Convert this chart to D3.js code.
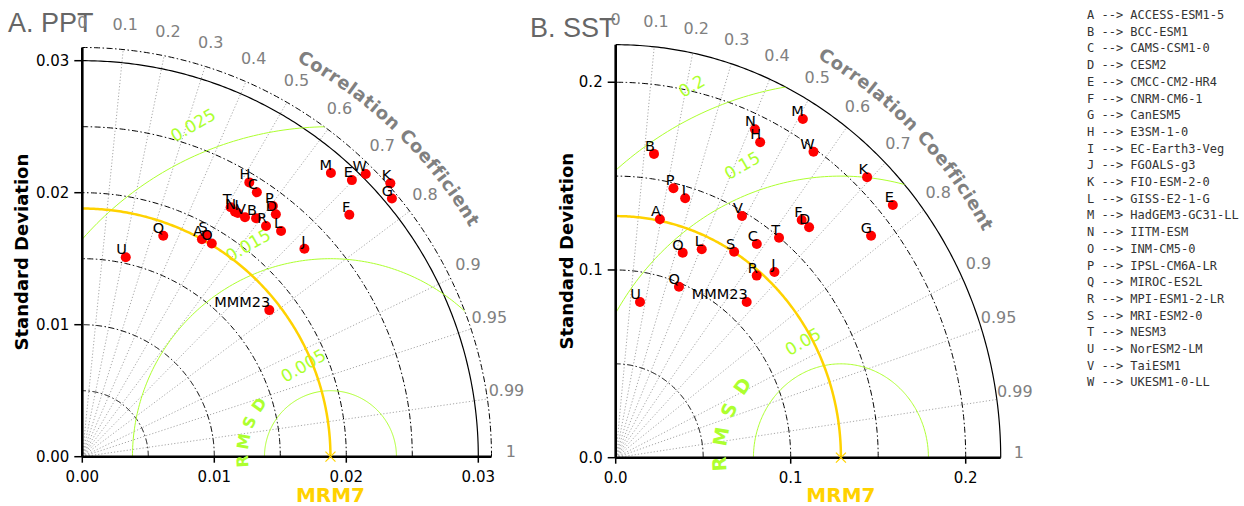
<!DOCTYPE html>
<html>
<head>
<meta charset="utf-8">
<script src="https://cdn.jsdelivr.net/npm/d3@7/dist/d3.min.js"></script>
<style>
  body { margin: 0; background: #fff; }
  svg { display: block; }
</style>
</head>
<body>
<svg id="chart" width="1244" height="506"></svg>
<script>
// Model codes and the CMIP6 models they stand for
const codes = ["A","B","C","D","E","F","G","H","I","J","K","L","M","N","O","P","Q","R","S","T","U","V","W"];
const modelNames = ["ACCESS-ESM1-5","BCC-ESM1","CAMS-CSM1-0","CESM2","CMCC-CM2-HR4","CNRM-CM6-1","CanESM5",
  "E3SM-1-0","EC-Earth3-Veg","FGOALS-g3","FIO-ESM-2-0","GISS-E2-1-G","HadGEM3-GC31-LL","IITM-ESM",
  "INM-CM5-0","IPSL-CM6A-LR","MIROC-ES2L","MPI-ESM1-2-LR","MRI-ESM2-0","NESM3","NorESM2-LM","TaiESM1","UKESM1-0-LL"];

// A. PPT: standard deviation and correlation of each model against MRM7
const pptStd  = [0.0188,0.02235,0.0240,0.0235,0.02926,0.0273,0.03054,0.02433,0.0219,0.02305,0.0312,0.02278,0.02858,0.02187,0.0189,0.02386,0.01783,0.02234,0.01926,0.02199,0.01546,0.02193,0.03033];
const pptCorr = [0.482,0.589,0.551,0.624,0.698,0.741,0.768,0.520,0.538,0.730,0.748,0.661,0.659,0.529,0.519,0.605,0.344,0.623,0.489,0.511,0.213,0.562,0.708];
const pptEnsemble = { name: "MMM23", std: 0.0180, corr: 0.787 };
const pptRefStd = 0.0188;

// B. SST: standard deviation and correlation of each model against MRM7
const sstStd  = [0.1295,0.1633,0.1395,0.1652,0.2078,0.1653,0.1878,0.1872,0.1438,0.1342,0.2073,0.1214,0.2097,0.1922,0.1157,0.1473,0.0980,0.1261,0.1289,0.1498,0.0841,0.1476,0.1983];
const sstCorr = [0.195,0.134,0.578,0.669,0.762,0.643,0.777,0.441,0.276,0.676,0.693,0.405,0.510,0.414,0.331,0.224,0.369,0.639,0.525,0.623,0.165,0.489,0.570];
const sstEnsemble = { name: "MMM23", std: 0.1117, corr: 0.670 };
const sstRefStd = 0.1287;

// Axis ticks
const pptStdTicks = [0, 0.01, 0.02, 0.03];
const sstStdTicks = [0, 0.1, 0.2];
const corrTicks = [0, 0.1, 0.2, 0.3, 0.4, 0.5, 0.6, 0.7, 0.8, 0.9, 0.95, 0.99, 1];
const pptRmsTicks = [0.005, 0.015, 0.025];
const sstRmsTicks = [0.05, 0.15, 0.2];
const pptStdArcs = [0.005, 0.01, 0.015, 0.02, 0.025, 0.031];
const sstStdArcs = [0.05, 0.1, 0.15, 0.2];

const GREEN = "#adff2f", GOLD = "#ffd200", GREY = "#808080";
const svg = d3.select("#chart");

function drawPanel(cfg) {
  const max = cfg.max;
  const x = d3.scaleLinear().domain([0, max]).range([cfg.left, cfg.left + cfg.width]);
  const y = d3.scaleLinear().domain([0, max]).range([cfg.bottom, cfg.bottom - cfg.height]);
  const polar = (r, th, cx = 0) => [x(cx + r * Math.cos(th)), y(r * Math.sin(th))];
  const line = d3.line();
  const arcPts = (r, a0, a1, cx = 0, n = 200) =>
    d3.range(n + 1).map(i => polar(r, a0 + (a1 - a0) * i / n, cx));
  const HALF = Math.PI / 2;

  const g = svg.append("g");

  // title
  g.append("text").attr("x", cfg.titleX).attr("y", cfg.titleY)
    .attr("font-family", "Liberation Sans, Arial, sans-serif").attr("font-size", 27)
    .attr("fill", "#666").text(cfg.title);

  // quarter-disc clip for the RMSD circles
  const clipId = cfg.id + "-clip";
  g.append("clipPath").attr("id", clipId).append("path")
    .attr("d", line([[x(0), y(0)], ...arcPts(max, 0, HALF)]) + "Z");

  // correlation rays
  corrTicks.filter(c => c > 0 && c < 1).forEach(c => {
    const th = Math.acos(c);
    g.append("line")
      .attr("x1", x(0)).attr("y1", y(0))
      .attr("x2", polar(max, th)[0]).attr("y2", polar(max, th)[1])
      .attr("stroke", "#a8a8a8").attr("stroke-width", 1).attr("stroke-dasharray", "1.2,2");
  });

  // standard deviation arcs
  cfg.stdArcs.forEach(r => {
    g.append("path").attr("d", line(arcPts(r, 0, HALF)))
      .attr("fill", "none").attr("stroke", "#000").attr("stroke-width", 1)
      .attr("stroke-dasharray", "6,2.5,1.5,2.5");
  });
  cfg.solidArcs.forEach(r => {
    g.append("path").attr("d", line(arcPts(r, 0, HALF)))
      .attr("fill", "none").attr("stroke", "#000").attr("stroke-width", 1.2);
  });

  // RMSD circles around the reference point
  const rms = g.append("g").attr("clip-path", `url(#${clipId})`);
  cfg.rmsTicks.forEach(r => {
    rms.append("path").attr("d", line(arcPts(r, 0, Math.PI, cfg.ref)))
      .attr("fill", "none").attr("stroke", GREEN).attr("stroke-width", 1);
  });
  cfg.rmsTicks.forEach((r, i) => {
    const phi = cfg.rmsLabelAngles[i] * Math.PI / 180;
    const p = polar(r, phi, cfg.ref);
    const off = 29;
    g.append("text")
      .attr("transform", `translate(${p[0] + off * Math.cos(phi)},${p[1] - off * Math.sin(phi)}) rotate(-30)`)
      .attr("text-anchor", "middle").attr("dominant-baseline", "central")
      .attr("font-family", "DejaVu Sans, sans-serif").attr("font-size", 17)
      .attr("fill", GREEN).text(d3.format("~g")(r));
  });

  // reference standard deviation arc
  g.append("path").attr("d", line(arcPts(cfg.ref, 0, HALF)))
    .attr("fill", "none").attr("stroke", GOLD).attr("stroke-width", 2.5);

  // axes
  g.append("line").attr("x1", x(0)).attr("y1", y(0)).attr("x2", x(max)).attr("y2", y(0))
    .attr("stroke", "#000").attr("stroke-width", 2.6);
  g.append("line").attr("x1", x(0)).attr("y1", y(0)).attr("x2", x(0)).attr("y2", y(max))
    .attr("stroke", "#000").attr("stroke-width", 2.6);

  const fmt = d3.format(cfg.tickFormat);
  cfg.stdTicks.forEach(t => {
    g.append("line").attr("x1", x(0) - 8).attr("x2", x(0)).attr("y1", y(t)).attr("y2", y(t))
      .attr("stroke", "#000").attr("stroke-width", 1.5);
    g.append("text").attr("x", x(0) - 13).attr("y", y(t)).attr("text-anchor", "end")
      .attr("dominant-baseline", "central").attr("font-family", "DejaVu Sans, sans-serif")
      .attr("font-size", 15).attr("fill", "#000").text(fmt(t));
    g.append("line").attr("x1", x(t)).attr("x2", x(t)).attr("y1", y(0)).attr("y2", y(0) + 6)
      .attr("stroke", "#000").attr("stroke-width", 1.5);
    g.append("text").attr("x", x(t)).attr("y", y(0) + 25).attr("text-anchor", "middle")
      .attr("font-family", "DejaVu Sans, sans-serif").attr("font-size", 15)
      .attr("fill", "#000").text(fmt(t));
  });

  // correlation labels
  corrTicks.forEach(c => {
    const p = polar(max * 1.047, Math.acos(c));
    g.append("text").attr("x", p[0]).attr("y", p[1]).attr("text-anchor", "middle")
      .attr("font-family", "DejaVu Sans, sans-serif").attr("font-size", 16)
      .attr("fill", GREY).text(String(c));
  });

  // curved axis title
  const pathId = cfg.id + "-corr-path";
  g.append("path").attr("id", pathId)
    .attr("d", line(arcPts(max * 1.10, 61.6 * Math.PI / 180, 5 * Math.PI / 180)))
    .attr("fill", "none");
  g.append("text").attr("font-family", "DejaVu Sans, sans-serif").attr("font-weight", "bold")
    .attr("font-size", 18).attr("letter-spacing", 0.6).attr("fill", GREY)
    .append("textPath").attr("href", "#" + pathId).text("Correlation Coefficient");

  // y axis title
  g.append("text")
    .attr("transform", `translate(${cfg.yTitleX},${(y(0) + y(max)) / 2}) rotate(-90)`)
    .attr("text-anchor", "middle").attr("dominant-baseline", "central")
    .attr("font-family", "DejaVu Sans, sans-serif").attr("font-weight", "bold")
    .attr("font-size", 18).attr("fill", "#000").text("Standard Deviation");

  // reference name under the reference point
  g.append("text").attr("x", x(cfg.ref)).attr("y", 502).attr("text-anchor", "middle")
    .attr("font-family", "DejaVu Sans, sans-serif").attr("font-weight", "bold")
    .attr("font-size", 20).attr("fill", GOLD).text("MRM7");

  // RMSD letters curving around the reference point
  const c0 = [x(cfg.ref), y(0)];
  "RMSD".split("").forEach((ch, i) => {
    const phiDeg = 183 - 13 * i;
    const phi = phiDeg * Math.PI / 180;
    const px = c0[0] + cfg.rmsdLabelR * Math.cos(phi);
    const py = c0[1] - cfg.rmsdLabelR * Math.sin(phi);
    g.append("text")
      .attr("transform", `translate(${px},${py}) rotate(${90 - phiDeg})`)
      .attr("text-anchor", "middle").attr("dominant-baseline", "central")
      .attr("font-family", "DejaVu Sans, sans-serif").attr("font-weight", "bold")
      .attr("font-size", cfg.rmsdFont).attr("fill", GREEN).text(ch);
  });

  // model points
  const pts = cfg.std.map((s, i) => ({ code: codes[i], std: s, corr: cfg.corr[i] }));
  pts.push({ code: cfg.ensemble.name, std: cfg.ensemble.std, corr: cfg.ensemble.corr });
  const pos = d => polar(d.std, Math.acos(d.corr));
  g.selectAll(null).data(pts).enter().append("circle")
    .attr("cx", d => pos(d)[0]).attr("cy", d => pos(d)[1]).attr("r", 5).attr("fill", "red");
  g.selectAll(null).data(pts).enter().append("text")
    .attr("x", d => pos(d)[0] + 1).attr("y", d => pos(d)[1] - 3)
    .attr("text-anchor", "end").attr("font-family", "DejaVu Sans, sans-serif")
    .attr("font-size", 14.5).attr("fill", "#000").text(d => d.code);

  // reference marker
  const rp = polar(cfg.ref, 0);
  g.append("path").attr("d", `M${rp[0]-5},${rp[1]-5}L${rp[0]+5},${rp[1]+5}M${rp[0]-5},${rp[1]+5}L${rp[0]+5},${rp[1]-5}`)
    .attr("stroke", GOLD).attr("stroke-width", 1.2);
}

drawPanel({
  id: "ppt", title: "A. PPT", titleX: 8, titleY: 32,
  max: 0.031, left: 82.3, bottom: 456.7, width: 409.2, height: 409.2,
  std: pptStd, corr: pptCorr, ensemble: pptEnsemble, ref: pptRefStd,
  stdTicks: pptStdTicks, tickFormat: ".2f", stdArcs: pptStdArcs, solidArcs: [0.03],
  rmsTicks: pptRmsTicks, rmsLabelAngles: [106.6, 111.3, 112.5],
  yTitleX: 21, rmsdLabelR: 88, rmsdFont: 16
});

drawPanel({
  id: "sst", title: "B. SST", titleX: 530, titleY: 37,
  max: 0.22, left: 615.7, bottom: 457.7, width: 385, height: 413,
  std: sstStd, corr: sstCorr, ensemble: sstEnsemble, ref: sstRefStd,
  stdTicks: sstStdTicks, tickFormat: ".1f", stdArcs: sstStdArcs, solidArcs: [0.22],
  rmsTicks: sstRmsTicks, rmsLabelAngles: [109, 109.8, 113.2],
  yTitleX: 566, rmsdLabelR: 122, rmsdFont: 19
});

// legend: code --> model name
const legend = svg.append("g").attr("font-family", "DejaVu Sans Mono, monospace")
  .attr("font-size", 12).attr("fill", "#333");
codes.forEach((c, i) => {
  legend.append("text").attr("x", 1087).attr("y", 19 + i * 16.7)
    .attr("xml:space", "preserve").text(`${c} --> ${modelNames[i]}`);
});
</script>
</body>
</html>
